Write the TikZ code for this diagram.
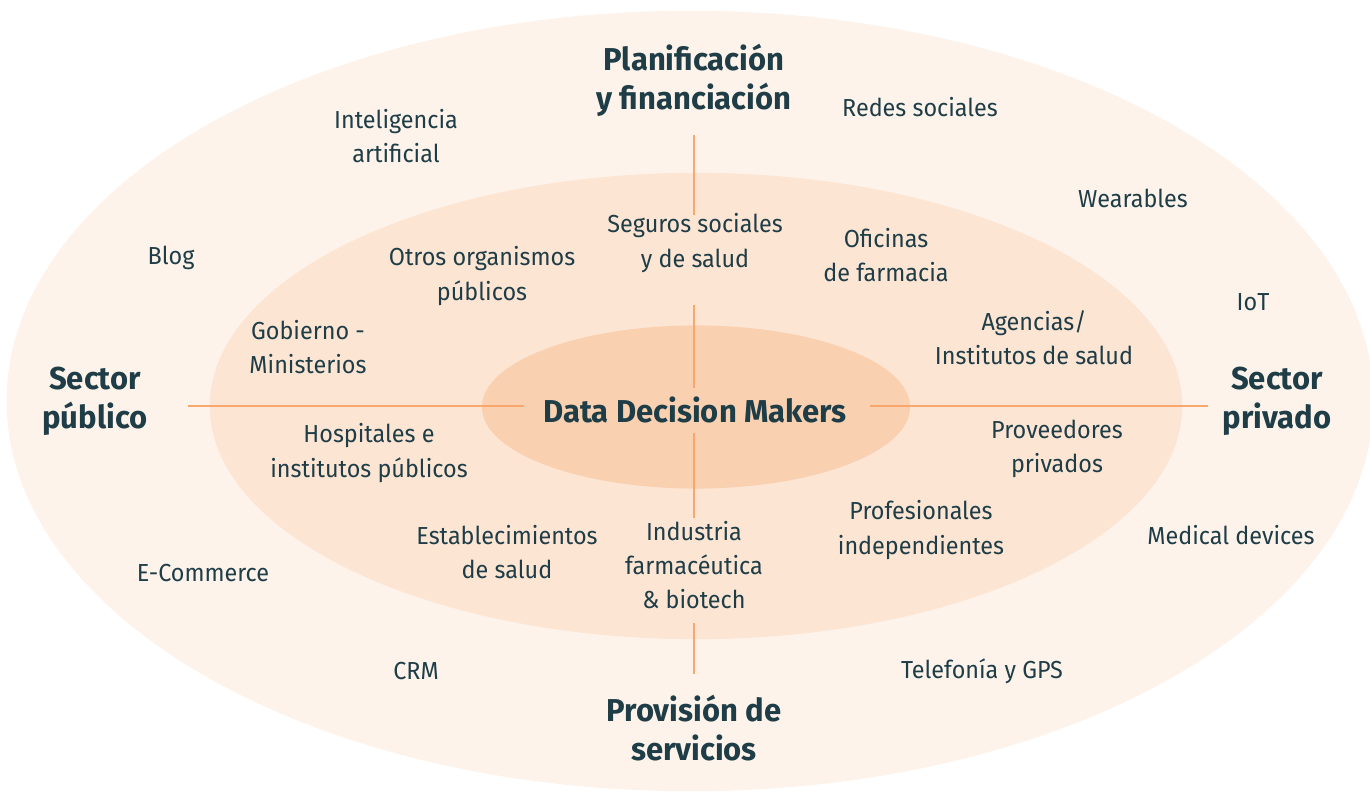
\documentclass[tikz,border=0pt]{standalone}
\usepackage{fontspec}
\setmainfont{Fira Sans}[FakeStretch=0.95, BoldFeatures={FakeStretch=0.98}]
\usepackage{tikz}
\usetikzlibrary{positioning}

\definecolor{ringout}{HTML}{FDF3EA}
\definecolor{ringmid}{HTML}{FDE5D4}
\definecolor{ringin}{HTML}{F9D1B0}
\definecolor{axisline}{HTML}{F8A86F}
\definecolor{inktext}{HTML}{1E3D47}

\begin{document}
\begin{tikzpicture}[x=0.01cm, y=-0.01cm,
        label/.style={text=inktext, align=center, font=\fontsize{7}{9.7}\selectfont, inner sep=1pt},
        title/.style={text=inktext, align=center, font=\fontsize{9}{11.2}\selectfont\bfseries, inner sep=1pt},
        axis/.style={draw=axisline, line width=0.8pt}]

        \useasboundingbox (0,0) rectangle (1370,791);

        % rings
        \fill[ringout] (690,401) ellipse [x radius=6.83cm, y radius=3.9cm];
        \fill[ringmid] (696,406) ellipse [x radius=4.86cm, y radius=2.33cm];
        \fill[ringin] (696,407) ellipse [x radius=2.14cm, y radius=0.815cm];

        % titles
        \node [title] (ddm) at (695,410) {Data Decision Makers};
        \node [title] (plan) at (694,80) {Planificación\\y financiación};
        \node [title] (prov) at (694,728) {Provisión de\\servicios};
        \node [title] (pub) at (95,401) {Sector\\público};
        \node [title] (priv) at (1277,401) {Sector\\privado};

        % inner ring
        \node [label] (seguros) at (695,243) {Seguros sociales\\y de salud};
        \node [label] (otros) at (482,276) {Otros organismos\\públicos};
        \node [label] (oficinas) at (886,255) {Oficinas\\de farmacia};
        \node [label] (gobierno) at (308,347) {Gobierno -\\Ministerios};
        \node [label] (agencias) at (1034,338) {Agencias/\\Institutos de salud};
        \node [label] (hospitales) at (369,453) {Hospitales e\\institutos públicos};
        \node [label] (proveedores) at (1057,449) {Proveedores\\privados};
        \node [label] (establec) at (507,552) {Establecimientos\\de salud};
        \node [label] (industria) at (694,565) {Industria\\farmacéutica\\\& biotech};
        \node [label] (profes) at (921,530) {Profesionales\\independientes};

        % outer ring
        \node [label] (redes) at (920,107) {Redes sociales};
        \node [label] (ia) at (396,136) {Inteligencia\\artificial};
        \node [label] (wear) at (1133,198) {Wearables};
        \node [label] (blog) at (171,258) {Blog};
        \node [label] (iot) at (1253,302) {IoT};
        \node [label] (medical) at (1231,535) {Medical devices};
        \node [label] (ecom) at (203,573) {E-Commerce};
        \node [label] (crm) at (416,671) {CRM};
        \node [label] (telef) at (982,671) {Telefonía y GPS};

        % axis ends
        \coordinate (pubend) at (188,406);
        \coordinate (ddmwest) at (524,406);
        \coordinate (ddmeast) at (870,406);
        \coordinate (privend) at (1208,406);
        \coordinate (plantop) at (694,135);
        \coordinate (segtop) at (694,215);
        \coordinate (segbot) at (694,305);
        \coordinate (ddmtop) at (694,388);
        \coordinate (ddmbot) at (694,433);
        \coordinate (indtop) at (694,518);
        \coordinate (indbot) at (694,623);
        \coordinate (provtop) at (694,674);

        \draw [axis] (pubend) -- (ddmwest);
        \draw [axis] (ddmeast) -- (privend);
        \draw [axis] (plantop) -- (segtop);
        \draw [axis] (segbot) -- (ddmtop);
        \draw [axis] (ddmbot) -- (indtop);
        \draw [axis] (indbot) -- (provtop);

    \end{tikzpicture}
\end{document}
